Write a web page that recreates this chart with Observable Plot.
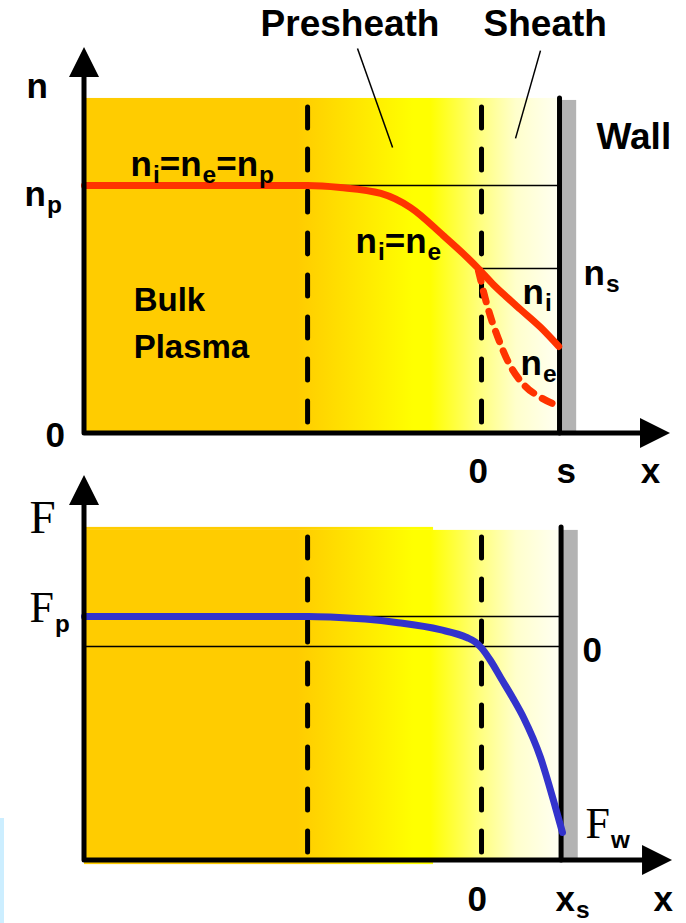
<!DOCTYPE html>
<html>
<head>
<meta charset="utf-8">
<script src="https://cdn.jsdelivr.net/npm/d3@7"></script>
<script src="https://cdn.jsdelivr.net/npm/@observablehq/plot@0.6"></script>
<style>
  html, body { margin: 0; padding: 0; background: #fff; }
  #figure { position: relative; width: 686px; height: 923px; overflow: hidden; }
  #figure svg { position: absolute; left: 0; overflow: visible; }
  #edge { position: absolute; left: 0; top: 818px; width: 4px; height: 105px; background: #cceeff; }
</style>
</head>
<body>
<div id="figure"><div id="edge"></div></div>
<script>
// Position along x, measured from the sheath edge in units of the sheath width
const axisOrigin = -5.09;
const presheathEdge = -2.23;
const sheathEdge = 0;
const wall = 1.0;
const wallBand = [1.03, 1.22];
const shadeStep = -0.615;

// Background shading: bulk plasma -> presheath -> sheath
const shadeStops = [
  {x: -5.09, color: "#FFCC00"},
  {x: -2.36, color: "#FFCC00"},
  {x: -0.87, color: "#FFFF00"},
  {x: -0.65, color: "#FFFF00"},
  {x: 0.0, color: "#FFFF80"},
  {x: 0.45, color: "#FFFFCC"},
  {x: 1.0, color: "#FFFFF2"}
];

// ---- Density panel (n normalised to the plasma density n_p) ----
const nPlasma = 1;
const nSheath = 0.665;
const nShadeTop = 1.351;
const nWallBandTop = 1.343;
const nDashes = [1.315, 0.02];
const nAxisTip = 1.556;
const nXAxisTip = 2.423;

const quasiNeutral = [
  {x: -5.09, n: 1}, {x: -2.23, n: 1}, {x: -1.81, n: 0.992}, {x: -1.29, n: 0.968},
  {x: -0.91, n: 0.911}, {x: -0.49, n: 0.798}, {x: -0.21, n: 0.718}, {x: -0.04, n: 0.665}
];
const ionDensity = [
  {x: -0.04, n: 0.665}, {x: 0.15, n: 0.601}, {x: 0.33, n: 0.548}, {x: 0.5, n: 0.5},
  {x: 0.76, n: 0.427}, {x: 0.99, n: 0.351}
];
const electronDensity = [
  {x: -0.04, n: 0.657}, {x: 0.0, n: 0.605}, {x: 0.08, n: 0.508}, {x: 0.21, n: 0.387},
  {x: 0.36, n: 0.278}, {x: 0.55, n: 0.194}, {x: 0.76, n: 0.145}, {x: 0.97, n: 0.113}
];
const leaders = [
  {x1: -1.59, n1: 1.552, x2: -1.14, n2: 1.153},
  {x1: 0.756, n1: 1.544, x2: 0.436, n2: 1.19}
];
const regionLabels = [
  {x: -2.833, n: 1.601, text: "Presheath"},
  {x: 0.026, n: 1.601, text: "Sheath"},
  {x: 1.474, n: 1.149, text: "Wall"}
];
const densityLabels = [
  {x: -5.833, n: 1.351, text: "n"},
  {x: -5.859, n: 0.919, text: "n_p"},
  {x: -4.5, n: 1.04, text: "n_i=n_e=n_p"},
  {x: -1.615, n: 0.726, text: "n_i=n_e"},
  {x: 1.308, n: 0.597, text: "n_s"},
  {x: 0.526, n: 0.524, text: "n_i"},
  {x: 0.5, n: 0.234, text: "n_e"}
];
const bulkLabels = [
  {x: -4.46, n: 0.496, text: "Bulk"},
  {x: -4.46, n: 0.306, text: "Plasma"}
];
const densityTicks = [
  {x: -5.59, n: -0.056, text: "0"},
  {x: -0.167, n: -0.198, text: "0"},
  {x: 0.96, n: -0.198, text: "s"},
  {x: 2.04, n: -0.198, text: "x"}
];

// ---- Potential panel (potential in units of the presheath drop) ----
const phiPlasma = 1;
const phiZero = 0;
const phiShadeTop = 3.97;
const phiShadeRight = 3.87;
const phiAxis = -7.13;
const phiShadeBelow = -7.27;
const phiDashes = [3.63, -7.07];
const phiAxisTip = 5.7;
const phiXAxisTip = 2.449;

const potential = [
  {x: -5.09, phi: 1}, {x: -2.22, phi: 1}, {x: -1.94, phi: 0.98}, {x: -1.09, phi: 0.8},
  {x: -0.53, phi: 0.56}, {x: -0.19, phi: 0.3}, {x: -0.08, phi: 0.15}, {x: 0.0, phi: -0.05},
  {x: 0.115, phi: -0.467}, {x: 0.244, phi: -1.033}, {x: 0.397, phi: -1.7}, {x: 0.538, phi: -2.367},
  {x: 0.756, phi: -3.7}, {x: 0.923, phi: -5.133}, {x: 1.038, phi: -6.2}
];
const potentialSymbol = [
  {x: -5.795, phi: 3.8, text: "F"},
  {x: -5.795, phi: 0.833, text: "F_p"},
  {x: 1.333, phi: -6.367, text: "F_w"}
];
const potentialTicks = [
  {x: 1.295, phi: -0.533, text: "0"},
  {x: -0.18, phi: -8.8, text: "0"},
  {x: 0.949, phi: -8.8, text: "x_s"},
  {x: 2.205, phi: -8.8, text: "x"}
];

const xDomain = [-6.167, 2.628];
const SANS = "Liberation Sans, Arial, sans-serif";
const SERIF = "Liberation Serif, Times New Roman, serif";
const NS = "http://www.w3.org/2000/svg";

// Linear gradient definition placed in the x scale's pixel space
function shading(id, stops) {
  return (index, scales) => {
    const defs = document.createElementNS(NS, "defs");
    const g = document.createElementNS(NS, "linearGradient");
    g.setAttribute("id", id);
    g.setAttribute("gradientUnits", "userSpaceOnUse");
    const a = scales.x(stops[0].x), b = scales.x(stops[stops.length - 1].x);
    g.setAttribute("x1", a); g.setAttribute("x2", b);
    g.setAttribute("y1", 0); g.setAttribute("y2", 0);
    for (const s of stops) {
      const stop = document.createElementNS(NS, "stop");
      stop.setAttribute("offset", (scales.x(s.x) - a) / (b - a));
      stop.setAttribute("stop-color", s.color);
      g.appendChild(stop);
    }
    defs.appendChild(g);
    return defs;
  };
}

// Axis lines with filled arrowheads
function arrowAxes(origin, xTip, yTip, yOrigin) {
  return (index, scales) => {
    const x0 = scales.x(origin), y0 = scales.y(yOrigin);
    const xt = scales.x(xTip), yt = scales.y(yTip);
    const L = 30, W = 15;
    const g = document.createElementNS(NS, "g");
    const lines = document.createElementNS(NS, "path");
    lines.setAttribute("d", `M${x0},${yt + L - 2}L${x0},${y0}L${xt - L + 2},${y0}`);
    lines.setAttribute("stroke", "black");
    lines.setAttribute("stroke-width", 5);
    lines.setAttribute("stroke-linecap", "round");
    lines.setAttribute("stroke-linejoin", "round");
    lines.setAttribute("fill", "none");
    const heads = document.createElementNS(NS, "path");
    heads.setAttribute("d",
      `M${x0},${yt}L${x0 - W},${yt + L}L${x0 + W},${yt + L}Z` +
      `M${xt},${y0}L${xt - L},${y0 - W}L${xt - L},${y0 + W}Z`);
    heads.setAttribute("fill", "black");
    g.appendChild(lines);
    g.appendChild(heads);
    return g;
  };
}

// Turn "a_b" into a base letter with a lowered, bold sans subscript.
// Serif symbols get a smaller, deeper subscript than the sans labels.
function subscripts(svg) {
  for (const t of svg.querySelectorAll("text")) {
    const parts = t.textContent.split(/_(\w)/);
    if (parts.length < 2) continue;
    const holder = t.closest("[font-size]");
    const size = parseFloat(holder.getAttribute("font-size"));
    const serif = (t.closest("[font-family]")?.getAttribute("font-family") || "").includes("Serif");
    const ratio = serif ? 0.55 : 0.7;
    const shift = serif ? 10 : 7;
    t.textContent = "";
    let lowered = false;
    parts.forEach((p, i) => {
      if (!p) return;
      const span = document.createElementNS(NS, "tspan");
      span.textContent = p;
      if (i % 2) {
        span.setAttribute("font-size", size * ratio);
        span.setAttribute("font-family", SANS);
        span.setAttribute("font-weight", "bold");
        span.setAttribute("dx", 1);
        if (!lowered) span.setAttribute("dy", shift);
        lowered = true;
      } else if (lowered) {
        span.setAttribute("dy", -shift);
        lowered = false;
      }
      t.appendChild(span);
    });
  }
}

const common = {
  width: 686,
  margin: 0,
  x: {domain: xDomain, axis: null},
  style: {background: "none", overflow: "visible"}
};

// ---------------- Density panel ----------------
const densityPlot = Plot.plot({
  ...common,
  height: 490,
  y: {domain: [-0.2298, 1.746], axis: null},
  marks: [
    shading("shade-n", shadeStops),
    Plot.rect([{x1: axisOrigin, x2: wall, y1: 0, y2: nShadeTop}],
      {x1: "x1", x2: "x2", y1: "y1", y2: "y2", fill: "url(#shade-n)"}),
    Plot.rect([{x1: wallBand[0], x2: wallBand[1], y1: 0, y2: nWallBandTop}],
      {x1: "x1", x2: "x2", y1: "y1", y2: "y2", fill: "#B3B3B3"}),
    Plot.ruleY([nPlasma], {x1: presheathEdge, x2: wall, stroke: "black", strokeWidth: 1.5}),
    Plot.ruleY([nSheath], {x1: sheathEdge - 0.05, x2: wall, stroke: "black", strokeWidth: 1.5}),
    Plot.ruleX([presheathEdge, sheathEdge], {y1: nDashes[0], y2: nDashes[1], stroke: "black",
      strokeWidth: 5, strokeDasharray: "21,21", strokeLinecap: "round"}),
    Plot.ruleX([wall], {y1: 0, y2: nShadeTop, stroke: "black", strokeWidth: 5, strokeLinecap: "round"}),
    Plot.link(leaders, {x1: "x1", y1: "n1", x2: "x2", y2: "n2", stroke: "black", strokeWidth: 1.5}),
    Plot.line(electronDensity, {x: "x", y: "n", stroke: "#FF3300", strokeWidth: 7,
      strokeDasharray: "11,10", strokeLinecap: "round", curve: "monotone-x"}),
    Plot.line(quasiNeutral.concat(ionDensity.slice(1)), {x: "x", y: "n", stroke: "#FF3300",
      strokeWidth: 7, strokeLinecap: "round", strokeLinejoin: "round", curve: "monotone-x"}),
    arrowAxes(axisOrigin, nXAxisTip, nAxisTip, 0),
    Plot.text(regionLabels, {x: "x", y: "n", text: "text", textAnchor: "start", lineAnchor: "bottom",
      fontFamily: SANS, fontWeight: "bold", fontSize: 37, fill: "black"}),
    Plot.text(densityLabels, {x: "x", y: "n", text: "text", textAnchor: "start", lineAnchor: "bottom",
      fontFamily: SANS, fontWeight: "bold", fontSize: 35, fill: "black"}),
    Plot.text(bulkLabels, {x: "x", y: "n", text: "text", textAnchor: "start", lineAnchor: "bottom",
      fontFamily: SANS, fontWeight: "bold", fontSize: 33, fill: "black"}),
    Plot.text(densityTicks, {x: "x", y: "n", text: "text", textAnchor: "start", lineAnchor: "bottom",
      fontFamily: SANS, fontWeight: "bold", fontSize: 35, fill: "black"})
  ]
});
subscripts(densityPlot);
densityPlot.style.top = "0px";

// ---------------- Potential panel ----------------
const potentialPlot = Plot.plot({
  ...common,
  height: 463,
  y: {domain: [-9.233, 6.2], axis: null},
  marks: [
    shading("shade-phi", shadeStops),
    Plot.rect([
      {x1: axisOrigin, x2: wall, y1: phiAxis, y2: phiShadeRight},
      {x1: axisOrigin, x2: shadeStep, y1: phiShadeRight, y2: phiShadeTop},
      {x1: axisOrigin, x2: shadeStep, y1: phiShadeBelow, y2: phiAxis}
    ], {x1: "x1", x2: "x2", y1: "y1", y2: "y2", fill: "url(#shade-phi)"}),
    Plot.rect([{x1: wallBand[0] + 0.02, x2: wallBand[1] + 0.02, y1: phiAxis - 0.07, y2: phiShadeRight}],
      {x1: "x1", x2: "x2", y1: "y1", y2: "y2", fill: "#B3B3B3"}),
    Plot.ruleY([phiPlasma], {x1: presheathEdge, x2: wall + 0.02, stroke: "black", strokeWidth: 1.5}),
    Plot.ruleY([phiZero], {x1: axisOrigin, x2: wall + 0.02, stroke: "black", strokeWidth: 1.5}),
    Plot.ruleX([presheathEdge, sheathEdge], {y1: phiDashes[0], y2: phiDashes[1], stroke: "black",
      strokeWidth: 5, strokeDasharray: "21,21", strokeLinecap: "round"}),
    Plot.ruleX([wall + 0.02], {y1: phiAxis, y2: phiShadeTop, stroke: "black", strokeWidth: 5, strokeLinecap: "round"}),
    Plot.line(potential, {x: "x", y: "phi", stroke: "#3333CC", strokeWidth: 7,
      strokeLinecap: "round", strokeLinejoin: "round", curve: "monotone-x"}),
    arrowAxes(axisOrigin, phiXAxisTip, phiAxisTip, phiAxis),
    Plot.text(potentialSymbol.slice(0, 1), {x: "x", y: "phi", text: "text", textAnchor: "start", lineAnchor: "bottom",
      fontFamily: SERIF, fontSize: 47, fill: "black"}),
    Plot.text(potentialSymbol.slice(1), {x: "x", y: "phi", text: "text", textAnchor: "start", lineAnchor: "bottom",
      fontFamily: SERIF, fontSize: 44, fill: "black"}),
    Plot.text(potentialTicks, {x: "x", y: "phi", text: "text", textAnchor: "start", lineAnchor: "bottom",
      fontFamily: SANS, fontWeight: "bold", fontSize: 35, fill: "black"})
  ]
});
subscripts(potentialPlot);
potentialPlot.style.top = "460px";

const figure = document.getElementById("figure");
figure.appendChild(densityPlot);
figure.appendChild(potentialPlot);
</script>
</body>
</html>
